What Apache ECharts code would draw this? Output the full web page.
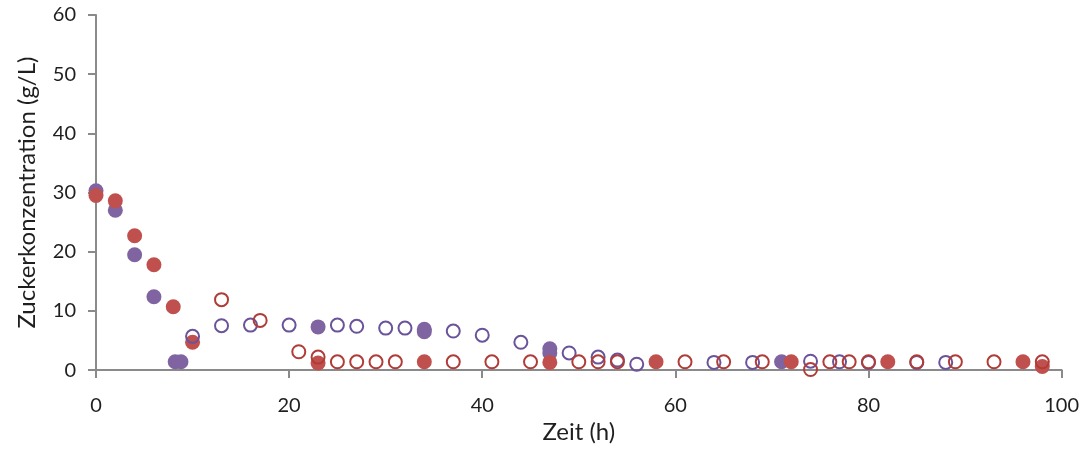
<!DOCTYPE html>
<html>
<head>
<meta charset="utf-8">
<script src="https://cdn.jsdelivr.net/npm/echarts@6/dist/echarts.min.js"></script>
<style>
html,body{margin:0;padding:0;background:#fff;}
#chart{width:1082px;height:449px;}
</style>
</head>
<body>
<div id="chart"></div>
<script>
// Data (x = Zeit in h, y = Zuckerkonzentration in g/L)
var purpleFilled = [[0,30.3],[2,27.0],[4,19.5],[6,12.4],[8.2,1.4],[8.8,1.4],[23,7.3],[34,6.9],[34,6.5],[47,3.6],[47,2.9],[71,1.4]];
var redFilled = [[0,29.5],[2,28.6],[4,22.7],[6,17.8],[8,10.7],[10,4.7],[23,1.2],[34,1.4],[47,1.3],[58,1.4],[72,1.4],[82,1.4],[96,1.4],[98,0.6]];
var purpleHollow = [[10,5.7],[13,7.5],[16,7.6],[20,7.6],[25,7.6],[27,7.4],[30,7.1],[32,7.1],[37,6.6],[40,5.9],[44,4.7],[49,2.9],[52,2.2],[54,1.7],[56,1.0],[64,1.3],[68,1.3],[74,1.5],[77,1.4],[80,1.3],[85,1.3],[88,1.3]];
var redHollow = [[13,11.9],[17,8.4],[21,3.1],[23,2.2],[25,1.4],[27,1.4],[29,1.4],[31,1.4],[37,1.4],[41,1.4],[45,1.4],[50,1.4],[52,1.4],[54,1.4],[61,1.4],[65,1.4],[69,1.4],[74,0.1],[76,1.4],[78,1.4],[80,1.4],[85,1.4],[89,1.4],[93,1.4],[98,1.4]];
var xTicks = {min:0, max:100, interval:20};
var yTicks = {min:0, max:60, interval:10};

var FONT = 'Lato, "Open Sans", sans-serif';
var axisColor = '#8a8a8a';
var textColor = '#1f1f1f';

var chart = echarts.init(document.getElementById('chart'), null, {renderer:'canvas'});
function filled(name, data, color){
  return {name:name, type:'scatter', data:data, symbol:'circle', symbolSize:15,
    itemStyle:{color:color, opacity:1}, z:2};
}
function hollow(name, data, color){
  return {name:name, type:'scatter', data:data, symbol:'circle', symbolSize:13,
    itemStyle:{color:'rgba(255,255,255,0)', borderColor:color, borderWidth:2, opacity:1}, z:3};
}
chart.setOption({
  animation:false,
  backgroundColor:'#ffffff',
  grid:{left:96, right:20, top:15, bottom:77, containLabel:false},
  xAxis:{
    type:'value', min:xTicks.min, max:xTicks.max, interval:xTicks.interval,
    name:'Zeit (h)', nameLocation:'middle', nameGap:49,
    nameTextStyle:{fontFamily:FONT, fontSize:24, color:textColor},
    axisLine:{show:true, onZero:false, lineStyle:{color:axisColor, width:2}},
    axisTick:{show:true, length:8, lineStyle:{color:axisColor, width:2}},
    axisLabel:{fontFamily:FONT, fontSize:20, color:textColor, margin:25},
    splitLine:{show:false}
  },
  yAxis:{
    type:'value', min:yTicks.min, max:yTicks.max, interval:yTicks.interval,
    name:'Zuckerkonzentration (g/L)', nameLocation:'middle', nameGap:57,
    nameTextStyle:{fontFamily:FONT, fontSize:24, color:textColor},
    axisLine:{show:true, lineStyle:{color:axisColor, width:2}},
    axisTick:{show:true, length:8, lineStyle:{color:axisColor, width:2}},
    axisLabel:{fontFamily:FONT, fontSize:20, color:textColor, margin:20},
    splitLine:{show:false}
  },
  series:[
    filled('purple filled', purpleFilled, '#8064A2'),
    filled('red filled', redFilled, '#C0504D'),
    hollow('purple hollow', purpleHollow, '#6A539A'),
    hollow('red hollow', redHollow, '#B03C38')
  ]
});
</script>
</body>
</html>
